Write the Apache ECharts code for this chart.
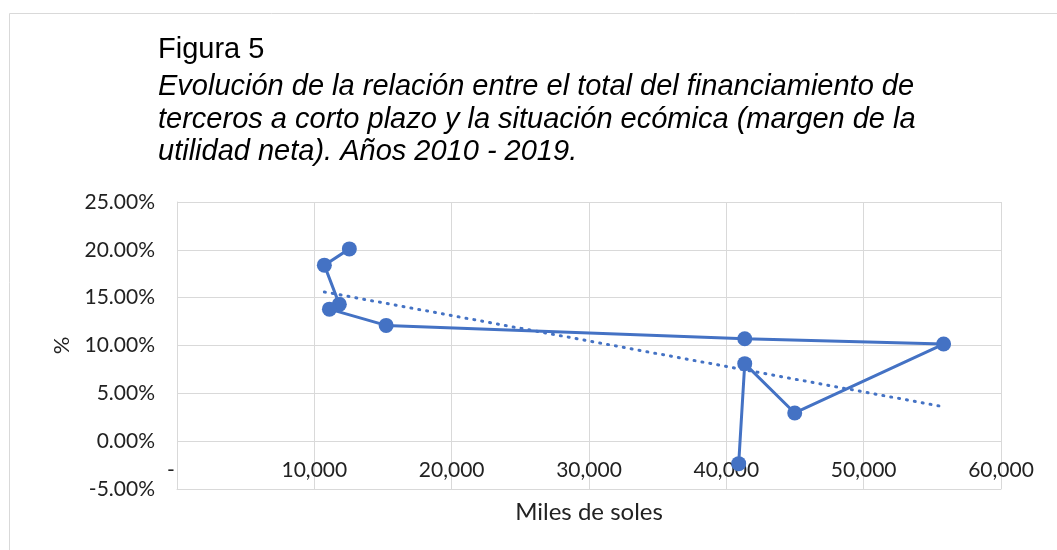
<!DOCTYPE html>
<html>
<head>
<meta charset="utf-8">
<script src="https://cdn.jsdelivr.net/npm/echarts@6/dist/echarts.min.js"></script>
<style>
    html, body { margin: 0; padding: 0; background: #fff; }
    #chart { width: 1057px; height: 550px; }
</style>
</head>
<body>
<div id="chart"></div>
<script>
// financiamiento de terceros a corto plazo (miles de soles), 2010 - 2019
var financiamiento = [12550, 10730, 11820, 11100, 15230, 41340, 55820, 44980, 41340, 40900];
// margen de la utilidad neta (%)
var margen = [20.1, 18.4, 14.3, 13.8, 12.1, 10.7, 10.15, 2.95, 8.1, -2.35];
// linea de tendencia (extremos)
var tendenciaX = [10730, 55820];
var tendenciaY = [15.6, 3.6];

var yTicks = ['-5.00%', '0.00%', '5.00%', '10.00%', '15.00%', '20.00%', '25.00%'];

var puntos = financiamiento.map(function (x, i) {
    return [x, margen[i]];
});
var tendencia = tendenciaX.map(function (x, i) {
    return [x, tendenciaY[i]];
});

var chart = echarts.init(document.getElementById('chart'));
var labelFont = 'Lato, "Open Sans", sans-serif';

var option = {
    animation: false,
    graphic: [
        {
            type: 'rect',
            shape: { x: 9.5, y: 13.5, width: 1100, height: 600 },
            style: { fill: 'none', stroke: '#d9d9d9', lineWidth: 1 },
            silent: true
        },
        {
            type: 'text',
            left: 158,
            top: 35,
            style: {
                text: 'Figura 5',
                font: '29px "Liberation Sans", Arial, sans-serif',
                fill: '#000'
            }
        },
        {
            type: 'text',
            left: 158,
            top: 71,
            style: {
                text: 'Evolución de la relación entre el total del financiamiento de\n' +
                    'terceros a corto plazo y la situación ecómica (margen de la\n' +
                    'utilidad neta). Años 2010 - 2019.',
                font: 'italic 29px "Liberation Sans", Arial, sans-serif',
                lineHeight: 32.5,
                fill: '#000'
            }
        }
    ],
    grid: {
        left: 177,
        right: 56,
        top: 202,
        bottom: 61
    },
    xAxis: {
        type: 'value',
        min: 0,
        max: 60000,
        interval: 10000,
        name: 'Miles de soles',
        nameLocation: 'middle',
        nameGap: 11,
        nameTextStyle: { fontFamily: labelFont, fontSize: 24, color: '#222' },
        axisLine: { show: true, onZero: false, lineStyle: { color: '#d9d9d9' } },
        axisTick: { show: false },
        axisLabel: {
            inside: true,
            margin: 8,
            fontFamily: labelFont,
            fontSize: 21,
            color: '#222',
            formatter: function (v) {
                if (v === 0) { return '{cero|-}'; }
                return v.toLocaleString('en-US');
            },
            rich: {
                cero: { fontFamily: labelFont, fontSize: 21, color: '#222', padding: [0, 12, 0, 0] }
            }
        },
        splitLine: { show: true, lineStyle: { color: '#d9d9d9', width: 1 } }
    },
    yAxis: {
        type: 'value',
        min: -5,
        max: 25,
        interval: 5,
        name: '%',
        nameLocation: 'middle',
        nameGap: 104,
        nameTextStyle: { fontFamily: labelFont, fontSize: 22, color: '#222' },
        axisLine: { show: true, lineStyle: { color: '#d9d9d9' } },
        axisTick: { show: false },
        axisLabel: {
            margin: 22,
            fontFamily: labelFont,
            fontSize: 21,
            color: '#222',
            formatter: function (v) {
                return yTicks[Math.round((v + 5) / 5)];
            }
        },
        splitLine: { show: true, lineStyle: { color: '#d9d9d9', width: 1 } }
    },
    series: [
        {
            name: 'Margen',
            type: 'line',
            data: puntos,
            symbol: 'circle',
            symbolSize: 15,
            lineStyle: { color: '#4472C4', width: 3 },
            itemStyle: { color: '#4472C4' },
            z: 3
        },
        {
            name: 'Tendencia',
            type: 'line',
            data: tendencia,
            symbol: 'none',
            lineStyle: { color: '#4472C4', width: 3, type: [1, 7], cap: 'round' },
            z: 2
        }
    ]
};

chart.setOption(option);
</script>
</body>
</html>
